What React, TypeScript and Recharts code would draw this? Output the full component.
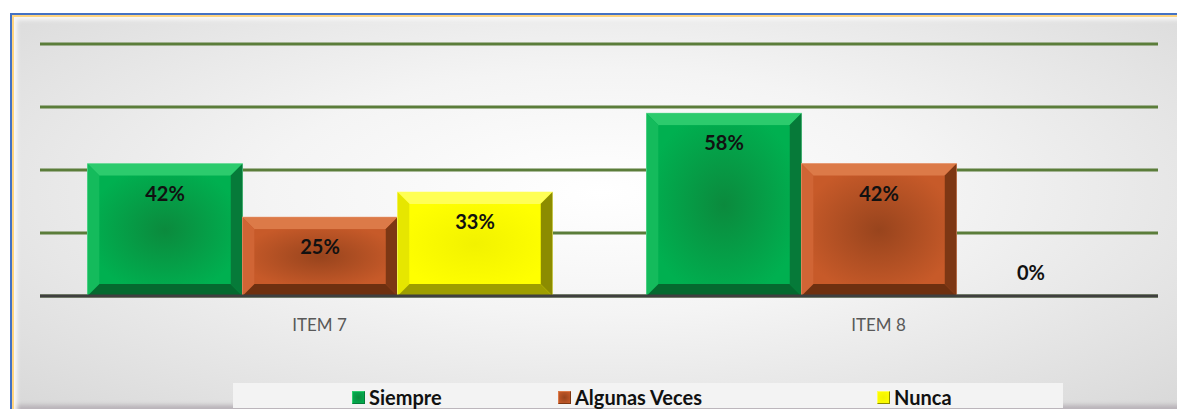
import React from "react";
import { BarChart, Bar, XAxis, YAxis, CartesianGrid, LabelList } from "recharts";

// values in percent
const items = ["ITEM 7", "ITEM 8"];
const siempre = [42, 58];
const algunasVeces = [25, 42];
const nunca = [33, 0];
const gridTicks = [0, 20, 40, 60, 80];

const data = items.map((item, i) => ({
  item,
  siempre: siempre[i],
  algunas: algunasVeces[i],
  nunca: nunca[i],
}));

type Tone = { base: string; center: string; top: string; left: string; right: string; bottom: string; edge: string };

const TONES: Record<string, Tone> = {
  siempre: { base: "#00b050", center: "#0b8a3d", top: "#2ccb6d", left: "#14bb5c", right: "#067a39", bottom: "#05692f", edge: "#7fe0a6" },
  algunas: { base: "#c75a29", center: "#98441d", top: "#dc7a48", left: "#d06535", right: "#7d3714", bottom: "#6e3010", edge: "#eba27c" },
  nunca: { base: "#ffff00", center: "#f2f200", top: "#ffff55", left: "#e6e600", right: "#8c8c00", bottom: "#9e9e00", edge: "#ffff99" },
};

const SERIES = [
  { key: "siempre", name: "Siempre" },
  { key: "algunas", name: "Algunas Veces" },
  { key: "nunca", name: "Nunca" },
];

const FONT = "Lato, 'Open Sans', sans-serif";

function BevelBar(props: any) {
  const { x, y, width: w, height: h, index, tone, id } = props;
  if (!h || h <= 0) return null;
  const b = Math.min(12, h / 2);
  const gid = `g-${id}-${index}`;
  return (
    <g>
      <defs>
        <radialGradient id={gid} cx="50%" cy="50%" r="60%">
          <stop offset="0%" stopColor={tone.center} />
          <stop offset="100%" stopColor={tone.base} />
        </radialGradient>
      </defs>
      <rect x={x} y={y} width={w} height={h} fill={tone.base} stroke={tone.edge} strokeWidth={1} />
      <polygon points={`${x},${y} ${x + w},${y} ${x + w - b},${y + b} ${x + b},${y + b}`} fill={tone.top} />
      <polygon points={`${x},${y} ${x + b},${y + b} ${x + b},${y + h - b} ${x},${y + h}`} fill={tone.left} />
      <polygon points={`${x + w},${y} ${x + w},${y + h} ${x + w - b},${y + h - b} ${x + w - b},${y + b}`} fill={tone.right} />
      <polygon points={`${x},${y + h} ${x + b},${y + h - b} ${x + w - b},${y + h - b} ${x + w},${y + h}`} fill={tone.bottom} />
      <rect x={x + b} y={y + b} width={w - 2 * b} height={h - 2 * b} fill={`url(#${gid})`} />
    </g>
  );
}

function renderValue(props: any) {
  const { x, y, width, value } = props;
  const cy = value === 0 ? y - 24 : y + 29;
  return (
    <text
      x={x + width / 2 - (value === 0 ? 3 : 0)}
      y={cy}
      textAnchor="middle"
      dominantBaseline="central"
      fill="#111"
      fontSize={20}
      fontWeight="bold"
      fontFamily={FONT}
    >
      {`${value}%`}
    </text>
  );
}

const legendLeft = [352, 558, 877];

export default function App() {
  return (
    <div style={{ position: "absolute", left: 0, top: 0, width: 1177, height: 412, background: "#fff", overflow: "hidden" }}>
      {/* frame */}
      <div
        style={{
          position: "absolute",
          left: 10,
          top: 13,
          width: 1180,
          height: 396,
          boxSizing: "border-box",
          borderLeft: "2px solid #4472c4",
          borderTop: "2px solid #4472c4",
          boxShadow: "inset 2px 2px 0 #ffd47f, inset 5px 5px 4px #f8f8f8, inset -4px -4px 4px #b9b3b9",
          background: "radial-gradient(ellipse at 50% 45%, #ffffff 0%, #f4f4f4 40%, #d8d8d8 100%)",
        }}
      />
      {/* legend backdrop */}
      <div style={{ position: "absolute", left: 233, top: 383, width: 830, height: 25, background: "#f3f3f3" }} />

      <div style={{ position: "absolute", left: 0, top: 0 }}>
        <BarChart
          width={1177}
          height={412}
          data={data}
          margin={{ top: 44, right: 19, left: 40, bottom: 86 }}
          barCategoryGap="8.5%"
          barGap={0}
        >
          <CartesianGrid vertical={false} stroke="#5b7d3a" strokeWidth={3} />
          <YAxis hide domain={[0, 80]} ticks={gridTicks} />
          <XAxis
            dataKey="item"
            height={30}
            axisLine={{ stroke: "#3f3f3f", strokeWidth: 3 }}
            tickLine={false}
            tickMargin={17}
            tick={{ fill: "#595959", fontSize: 17, fontFamily: FONT }}
          />
          {SERIES.map((s) => (
            <Bar
              key={s.key}
              dataKey={s.key}
              name={s.name}
              fill={TONES[s.key].base}
              isAnimationActive={false}
              shape={(p: any) => <BevelBar {...p} tone={TONES[s.key]} id={s.key} />}
            >
              <LabelList dataKey={s.key} content={renderValue} />
            </Bar>
          ))}
        </BarChart>
      </div>

      {/* legend */}
      {SERIES.map((s, i) => (
        <div
          key={s.key}
          style={{
            position: "absolute",
            left: legendLeft[i],
            top: 384,
            height: 26,
            display: "flex",
            alignItems: "center",
            fontFamily: FONT,
            fontWeight: "bold",
            fontSize: 20,
            color: "#111",
          }}
        >
          <span
            style={{
              display: "inline-block",
              width: 11,
              height: 11,
              marginRight: 4,
              background: `radial-gradient(circle, ${TONES[s.key].center}, ${TONES[s.key].base})`,
              border: `1px solid ${TONES[s.key].right}`,
              borderTopColor: TONES[s.key].top,
              borderLeftColor: TONES[s.key].top,
            }}
          />
          {s.name}
        </div>
      ))}
    </div>
  );
}
